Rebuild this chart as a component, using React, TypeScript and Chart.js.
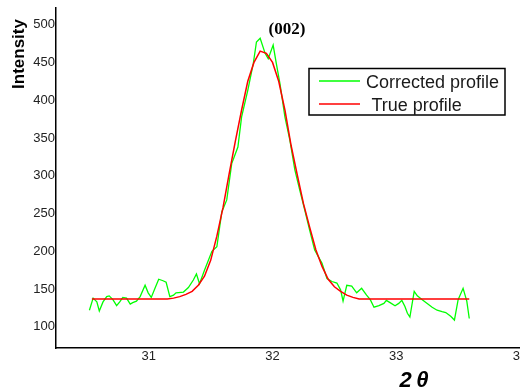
import React, { useEffect, useRef } from "react";
import { Chart, registerables } from "chart.js";

Chart.register(...registerables);

// Corrected profile (green, noisy)
const correctedX = [
  30.52, 30.55, 30.58, 30.6, 30.63, 30.66, 30.68, 30.71, 30.74, 30.765, 30.79, 30.82, 30.85, 30.87, 30.9, 30.93,
  30.97, 30.995, 31.02, 31.05, 31.08, 31.115, 31.14, 31.17, 31.2, 31.22, 31.28, 31.32, 31.36, 31.385, 31.41, 31.45,
  31.51, 31.55, 31.59, 31.63, 31.67, 31.72, 31.75, 31.8, 31.845, 31.87, 31.9, 31.94, 31.965, 32.005, 32.03, 32.06,
  32.1, 32.14, 32.18, 32.22, 32.26, 32.3, 32.34, 32.37, 32.4, 32.44, 32.48, 32.52, 32.55, 32.57, 32.6, 32.64,
  32.68, 32.72, 32.76, 32.79, 32.82, 32.86, 32.9, 32.92, 32.95, 32.99, 33.02, 33.045, 33.07, 33.09, 33.11, 33.145,
  33.17, 33.21, 33.25, 33.29, 33.33, 33.37, 33.4, 33.44, 33.47, 33.5, 33.54, 33.57, 33.59,
];
const correctedY = [
  122, 138, 133, 121, 133, 140, 141, 136, 128, 133, 139, 138, 130, 132, 134, 140,
  155, 145, 139, 151, 163, 161, 159, 140, 142, 145, 146, 152, 162, 170, 157, 175,
  200, 206, 252, 268, 316, 338, 378, 413, 449, 477, 482, 462, 455, 473, 449, 422,
  378, 347, 308, 281, 255, 228, 202, 193, 184, 164, 160, 158, 149, 134, 155, 154,
  145, 151, 142, 136, 126, 128, 131, 135, 132, 128, 131, 135, 127, 118, 113, 147,
  141, 136, 131, 126, 122, 120, 119, 114, 109, 136, 151, 134, 111,
];

// True profile (red, smooth)
const trueX = [
  30.54, 31.15, 31.2, 31.25, 31.3, 31.35, 31.4, 31.45, 31.5, 31.55, 31.6, 31.65, 31.7, 31.75, 31.8, 31.85, 31.9,
  31.95, 32.0, 32.05, 32.1, 32.15, 32.2, 32.25, 32.3, 32.35, 32.4, 32.45, 32.5, 32.55, 32.6, 32.65, 32.7, 33.59,
];
const trueY = [
  137, 137, 138, 140, 143, 147, 155, 167, 188, 220, 258, 303, 346, 387, 425, 450, 465,
  462, 450, 425, 387, 340, 301, 263, 232, 202, 180, 163, 153, 147, 142, 139, 137, 137,
];

const xTicks = [31, 32, 33, 34];
const yTicks = [100, 150, 200, 250, 300, 350, 400, 450, 500];

const SANS = "'Liberation Sans', Arial, sans-serif";
const SERIF = "'Liberation Serif', 'Times New Roman', serif";

const textPlugin = {
  id: "customText",
  afterDraw(chart: any) {
    const ctx = chart.ctx as CanvasRenderingContext2D;
    ctx.save();
    // y axis title
    ctx.save();
    ctx.translate(24, 54);
    ctx.rotate(-Math.PI / 2);
    ctx.font = `bold 17px ${SANS}`;
    ctx.fillStyle = "#000";
    ctx.textAlign = "center";
    ctx.textBaseline = "alphabetic";
    ctx.fillText("Intensity", 0, 0);
    ctx.restore();

    // x axis title
    ctx.font = `italic bold 22px ${SANS}`;
    ctx.fillStyle = "#000";
    ctx.textAlign = "center";
    ctx.textBaseline = "alphabetic";
    ctx.fillText("2\u202Fθ", 414, 387);

    // peak annotation
    ctx.font = `bold 17px ${SERIF}`;
    ctx.fillText("(002)", 287, 33.5);

    // legend
    ctx.lineWidth = 1.5;
    ctx.strokeStyle = "#000";
    ctx.strokeRect(309, 68.5, 196, 46.5);
    ctx.lineWidth = 1.5;
    ctx.strokeStyle = "#00ff00";
    ctx.beginPath();
    ctx.moveTo(319, 81);
    ctx.lineTo(360, 81);
    ctx.stroke();
    ctx.strokeStyle = "#ff0000";
    ctx.beginPath();
    ctx.moveTo(319, 104);
    ctx.lineTo(360, 104);
    ctx.stroke();
    ctx.font = `18px ${SANS}`;
    ctx.fillStyle = "#1a1a1a";
    ctx.textAlign = "left";
    ctx.fillText("Corrected profile", 366, 87.5);
    ctx.fillText("True profile", 371.5, 110.5);
    ctx.restore();
  },
};

const zeroPad = (s: any) => {
  s.paddingTop = 0;
  s.paddingBottom = 0;
  s.paddingLeft = 0;
  s.paddingRight = 0;
};

export default function App() {
  const ref = useRef<HTMLCanvasElement>(null);
  useEffect(() => {
    if (!ref.current) return;
    const chart = new Chart(ref.current, {
      type: "line",
      data: {
        datasets: [
          {
            label: "Corrected profile",
            data: correctedX.map((x, i) => ({ x, y: correctedY[i] })),
            borderColor: "#00ff00",
            borderWidth: 1.3,
            pointRadius: 0,
            tension: 0,
            fill: false,
            order: 1,
          },
          {
            label: "True profile",
            data: trueX.map((x, i) => ({ x, y: trueY[i] })),
            borderColor: "#ff0000",
            borderWidth: 1.5,
            pointRadius: 0,
            tension: 0,
            fill: false,
            order: 0,
          },
        ],
      },
      options: {
        animation: false,
        responsive: false,
        layout: { padding: { top: 8, left: 0, right: 0, bottom: 0 }, autoPadding: false },
        plugins: { legend: { display: false }, tooltip: { enabled: false }, title: { display: false } },
        scales: {
          x: {
            type: "linear",
            min: 30.25,
            max: 34.0,
            afterFit: (s: any) => {
              s.height = 44;
              zeroPad(s);
            },
            afterBuildTicks: (s: any) => {
              s.ticks = xTicks.map((v) => ({ value: v }));
            },
            ticks: {
              font: { size: 13, family: SANS },
              color: "#222",
              padding: 1,
              maxRotation: 0,
              autoSkip: false,
            },
            grid: { display: false, drawTicks: false },
            border: { display: true, color: "#000", width: 1.5 },
          },
          y: {
            type: "linear",
            min: 72,
            max: 522,
            afterFit: (s: any) => {
              s.width = 56;
              zeroPad(s);
            },
            afterBuildTicks: (s: any) => {
              s.ticks = yTicks.map((v) => ({ value: v }));
            },
            ticks: {
              font: { size: 13, family: SANS },
              color: "#222",
              padding: 1,
              autoSkip: false,
            },
            grid: { display: false, drawTicks: false },
            border: { display: true, color: "#000", width: 1.5 },
          },
        },
      },
      plugins: [textPlugin],
    });
    return () => chart.destroy();
  }, []);
  return (
    <div style={{ position: "absolute", left: 0, top: 0, width: 520, height: 392, overflow: "hidden" }}>
      <canvas ref={ref} width={520} height={392} style={{ display: "block" }} />
    </div>
  );
}
